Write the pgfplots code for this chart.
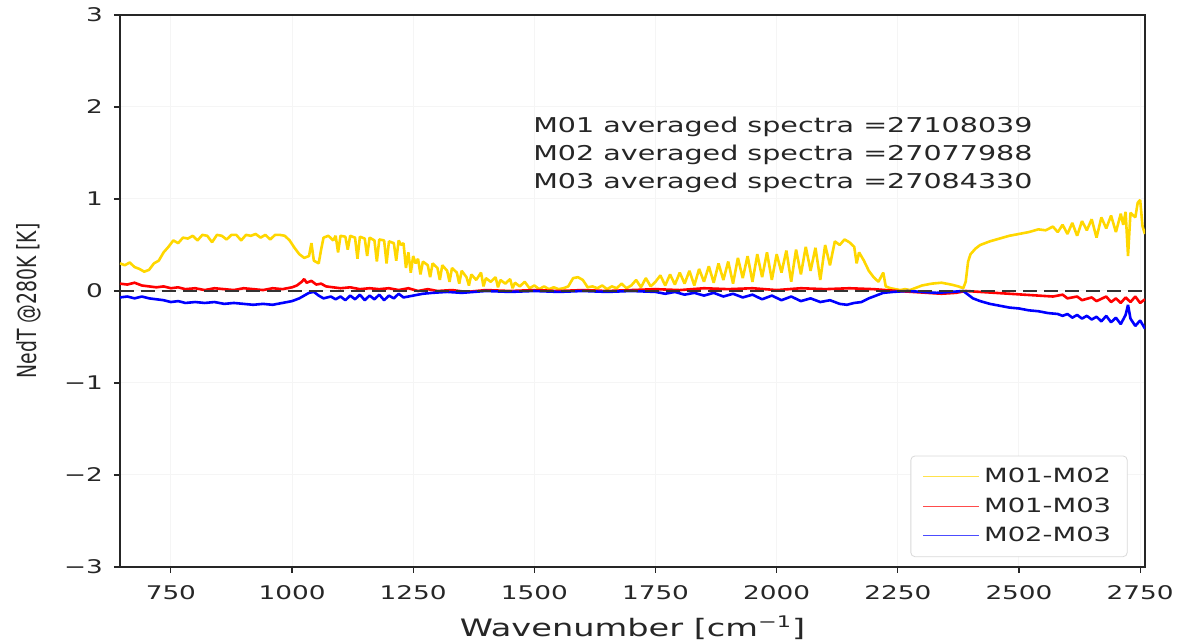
\documentclass[border=0pt]{standalone}
\usepackage{fontspec}
\setmainfont[FakeStretch=1.4]{DejaVu Sans}
\newfontfamily\plainfont{DejaVu Sans}
\usepackage{graphicx}
\usepackage{pgfplots}
\pgfplotsset{compat=1.18}
\definecolor{gold}{HTML}{FFD700}
\definecolor{txt}{HTML}{262626}
\begin{document}
\begin{tikzpicture}
\path[use as bounding box] (-60pt,-37pt) rectangle (529.5pt,283.5pt);
\begin{axis}[
  scale only axis, width=512.5pt, height=276pt,
  xmin=645, xmax=2760, ymin=-3, ymax=3,
  xtick={750,1000,...,2750}, ytick={-3,...,3},
  yticklabels={−3,−2,−1,0,1,2,3},
  /pgf/number format/assume math mode=true,
  /pgf/number format/1000 sep={},
  tick label style={font=\fontsize{9.4pt}{11pt}\selectfont, text=txt},
  xticklabel style={yshift=-2.5pt},
  yticklabel style={xshift=-2pt},
  tick align=outside, tick pos=left, major tick length=3pt,
  every tick/.style={txt, line width=0.6pt},
  axis line style={txt, line width=0.8pt},
  grid=major, major grid style={gray!8, line width=0.5pt},
  xlabel={Wavenumber [cm\textsuperscript{−1}]},
  xlabel style={font=\fontsize{12pt}{14pt}\selectfont, text=txt, yshift=-1.5pt},
  ylabel={\scalebox{1}[1.4]{\plainfont\fontsize{9.4pt}{11pt}\selectfont NedT @280K [K]}},
  ylabel style={text=txt, yshift=4.5pt, xshift=-5pt},
  legend cell align=left,
  legend style={at={(0.983,0.018)}, anchor=south east, draw=gray!30, rounded corners=2pt,
    font=\fontsize{9.8pt}{12pt}\selectfont, text=txt, row sep=2pt, inner xsep=6pt, inner ysep=4pt},
  legend image code/.code={\draw[#1, line width=0.6pt, opacity=0.7] (0pt,0pt) -- (28pt,0pt);},
]
\addplot[gold, line width=1.3pt, line join=bevel] coordinates {
(645,0.30) (655,0.28) (665,0.31) (675,0.26) (685,0.24) (695,0.21) (705,0.23) (715,0.30) (725,0.33) (735,0.42) (745,0.48) (755,0.55) (765,0.52) (775,0.58) (785,0.57) (795,0.60) (805,0.55) (815,0.61) (825,0.60) (835,0.53) (845,0.61) (855,0.60) (865,0.56) (875,0.61) (885,0.61) (895,0.55) (905,0.61) (915,0.60) (925,0.62) (935,0.58) (945,0.61) (955,0.56) (965,0.61) (975,0.61) (985,0.60) (995,0.55) (1005,0.47) (1015,0.40) (1025,0.36) (1035,0.38) (1040,0.52) (1045,0.33) (1055,0.30) (1060,0.45) (1065,0.58) (1075,0.60) (1085,0.55) (1090,0.60) (1095,0.42) (1100,0.60) (1110,0.59) (1115,0.45) (1120,0.60) (1130,0.58) (1135,0.35) (1140,0.59) (1150,0.57) (1155,0.38) (1160,0.58) (1170,0.55) (1175,0.32) (1180,0.56) (1190,0.55) (1195,0.30) (1200,0.54) (1210,0.52) (1215,0.33) (1220,0.55) (1225,0.50) (1230,0.52) (1235,0.25) (1240,0.42) (1245,0.20) (1250,0.38) (1255,0.30) (1260,0.35) (1265,0.18) (1270,0.32) (1280,0.28) (1285,0.15) (1290,0.30) (1300,0.25) (1305,0.12) (1310,0.28) (1320,0.22) (1325,0.10) (1330,0.25) (1340,0.20) (1345,0.08) (1350,0.22) (1360,0.15) (1365,0.06) (1370,0.18) (1380,0.12) (1390,0.20) (1395,0.05) (1400,0.14) (1410,0.10) (1420,0.15) (1425,0.04) (1430,0.12) (1440,0.08) (1450,0.13) (1455,0.03) (1460,0.09) (1470,0.05) (1480,0.10) (1490,0.03) (1500,0.06) (1510,0.02) (1520,0.05) (1530,0.02) (1540,0.04) (1550,0.02) (1560,0.03) (1570,0.05) (1580,0.14) (1590,0.15) (1600,0.12) (1610,0.04) (1620,0.05) (1630,0.03) (1640,0.06) (1650,0.02) (1660,0.05) (1670,0.03) (1680,0.08) (1690,0.03) (1700,0.06) (1710,0.12) (1720,0.04) (1730,0.14) (1740,0.05) (1750,0.10) (1760,0.17) (1770,0.06) (1780,0.18) (1790,0.07) (1800,0.20) (1810,0.08) (1820,0.22) (1830,0.06) (1840,0.24) (1850,0.10) (1860,0.27) (1870,0.09) (1880,0.30) (1890,0.12) (1900,0.32) (1910,0.08) (1920,0.36) (1930,0.14) (1940,0.38) (1950,0.10) (1960,0.40) (1970,0.15) (1980,0.42) (1990,0.12) (2000,0.40) (2010,0.20) (2020,0.44) (2030,0.10) (2040,0.45) (2050,0.18) (2060,0.48) (2070,0.22) (2080,0.47) (2090,0.12) (2100,0.50) (2110,0.28) (2120,0.54) (2130,0.50) (2140,0.56) (2150,0.53) (2160,0.48) (2165,0.30) (2170,0.42) (2180,0.33) (2190,0.22) (2200,0.15) (2210,0.10) (2220,0.20) (2225,0.05) (2235,0.03) (2245,0.02) (2255,0.01) (2265,0.02) (2275,0.01) (2290,0.04) (2300,0.06) (2320,0.08) (2340,0.09) (2360,0.07) (2375,0.05) (2385,0.03) (2390,0.10) (2395,0.32) (2400,0.40) (2410,0.46) (2420,0.50) (2440,0.54) (2460,0.57) (2480,0.60) (2500,0.62) (2520,0.64) (2540,0.67) (2555,0.66) (2570,0.70) (2580,0.64) (2590,0.72) (2600,0.62) (2610,0.74) (2620,0.60) (2630,0.76) (2640,0.66) (2650,0.78) (2660,0.58) (2670,0.80) (2680,0.68) (2690,0.82) (2700,0.64) (2710,0.84) (2715,0.72) (2720,0.86) (2725,0.38) (2730,0.85) (2740,0.80) (2745,0.96) (2750,0.99) (2755,0.70) (2760,0.62)
};
\addlegendentry{M01-M02}
\addplot[red, line width=1.3pt, line join=bevel] coordinates {
(645,0.08) (660,0.07) (675,0.09) (690,0.06) (705,0.05) (720,0.04) (735,0.05) (750,0.03) (765,0.04) (780,0.02) (800,0.03) (820,0.01) (840,0.03) (860,0.02) (880,0.01) (900,0.03) (920,0.02) (940,0.01) (960,0.03) (980,0.02) (1000,0.04) (1010,0.06) (1020,0.10) (1025,0.13) (1030,0.09) (1040,0.11) (1050,0.07) (1060,0.08) (1070,0.05) (1085,0.04) (1100,0.03) (1120,0.04) (1140,0.02) (1160,0.03) (1180,0.02) (1200,0.03) (1220,0.01) (1240,0.03) (1260,0.00) (1280,0.02) (1300,0.00) (1330,0.01) (1360,-0.01) (1400,0.01) (1450,0.00) (1500,0.01) (1550,0.00) (1600,0.01) (1650,0.00) (1700,0.01) (1750,0.02) (1800,0.01) (1850,0.03) (1900,0.02) (1950,0.03) (2000,0.01) (2050,0.03) (2100,0.02) (2150,0.03) (2200,0.02) (2250,0.00) (2280,-0.01) (2310,-0.02) (2340,-0.03) (2370,-0.02) (2390,0.00) (2420,-0.01) (2450,-0.02) (2480,-0.03) (2510,-0.04) (2540,-0.05) (2570,-0.06) (2590,-0.04) (2600,-0.08) (2620,-0.06) (2630,-0.10) (2650,-0.07) (2660,-0.11) (2680,-0.06) (2690,-0.12) (2700,-0.08) (2710,-0.13) (2720,-0.07) (2730,-0.12) (2740,-0.06) (2750,-0.13) (2760,-0.09)
};
\addlegendentry{M01-M03}
\addplot[blue, line width=1.3pt, line join=bevel] coordinates {
(645,-0.07) (660,-0.06) (675,-0.08) (690,-0.06) (705,-0.08) (720,-0.09) (735,-0.10) (750,-0.12) (765,-0.11) (780,-0.13) (800,-0.12) (820,-0.13) (840,-0.12) (860,-0.14) (880,-0.13) (900,-0.14) (920,-0.15) (940,-0.14) (960,-0.15) (980,-0.13) (1000,-0.11) (1015,-0.08) (1025,-0.05) (1035,-0.02) (1045,-0.01) (1055,-0.05) (1065,-0.08) (1080,-0.06) (1090,-0.09) (1100,-0.06) (1110,-0.10) (1120,-0.05) (1130,-0.09) (1140,-0.04) (1150,-0.10) (1160,-0.05) (1170,-0.09) (1180,-0.04) (1190,-0.10) (1200,-0.05) (1210,-0.08) (1220,-0.03) (1230,-0.07) (1250,-0.05) (1270,-0.03) (1290,-0.02) (1320,-0.01) (1350,-0.02) (1400,0.00) (1450,-0.01) (1500,0.00) (1550,-0.01) (1600,0.00) (1650,-0.01) (1700,0.00) (1750,-0.01) (1770,-0.03) (1790,-0.01) (1810,-0.04) (1830,-0.02) (1850,-0.05) (1870,-0.02) (1890,-0.06) (1910,-0.03) (1930,-0.07) (1950,-0.04) (1970,-0.09) (1990,-0.05) (2010,-0.10) (2030,-0.06) (2050,-0.11) (2070,-0.08) (2090,-0.12) (2110,-0.10) (2130,-0.14) (2145,-0.15) (2160,-0.13) (2175,-0.12) (2190,-0.08) (2205,-0.05) (2220,-0.02) (2240,-0.01) (2270,0.00) (2300,-0.01) (2330,-0.02) (2360,-0.01) (2385,0.00) (2395,-0.04) (2405,-0.08) (2420,-0.11) (2440,-0.14) (2460,-0.16) (2480,-0.18) (2500,-0.19) (2520,-0.21) (2540,-0.22) (2560,-0.24) (2580,-0.25) (2590,-0.27) (2600,-0.25) (2610,-0.29) (2620,-0.26) (2630,-0.30) (2640,-0.27) (2650,-0.31) (2660,-0.28) (2670,-0.33) (2680,-0.27) (2690,-0.34) (2700,-0.29) (2710,-0.36) (2720,-0.26) (2725,-0.15) (2730,-0.30) (2740,-0.38) (2750,-0.32) (2760,-0.41)
};
\addlegendentry{M02-M03}
\addplot[black!80, line width=1.1pt, dash pattern=on 7pt off 3.5pt, forget plot] coordinates {(645,0) (2760,0)};
\node[anchor=west, text=txt, font=\fontsize{10.2pt}{12pt}\selectfont, align=left, inner sep=0pt] at (axis cs:1497,1.48)
 {M01 averaged spectra =27108039\\[2pt]M02 averaged spectra =27077988\\[2pt]M03 averaged spectra =27084330};
\end{axis}
\end{tikzpicture}
\end{document}
